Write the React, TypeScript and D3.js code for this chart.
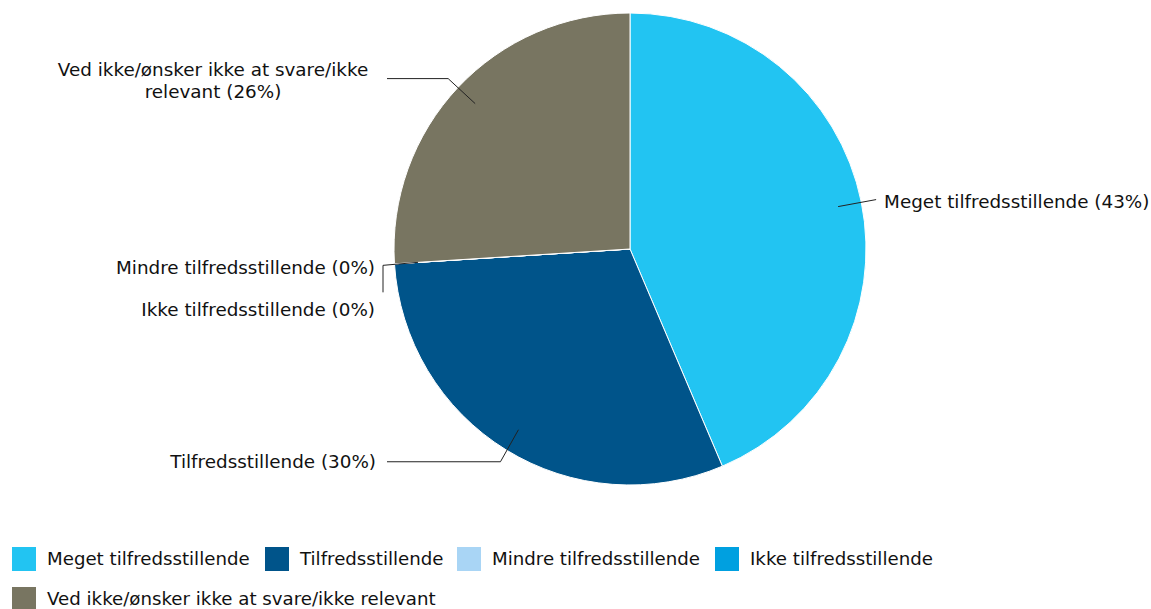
import React from "react";
import * as d3 from "d3";

const categories = [
  "Meget tilfredsstillende",
  "Tilfredsstillende",
  "Mindre tilfredsstillende",
  "Ikke tilfredsstillende",
  "Ved ikke/ønsker ikke at svare/ikke relevant",
];
const values = [43.6, 30.4, 0, 0, 26.0];
const percentLabels = ["43%", "30%", "0%", "0%", "26%"];
const colors = ["#22c4f2", "#00548a", "#a9d5f5", "#00a0e0", "#787561"];

const W = 1151;
const H = 609;
const CX = 630;
const CY = 249;
const R = 236;
const FONT = "'DejaVu Sans', Verdana, sans-serif";

type Slice = d3.PieArcDatum<number>;

export default function App() {
  const pie = d3
    .pie<number>()
    .sort(null)
    .value((d) => d);
  const arcs: Slice[] = pie(values);
  const arc = d3.arc<Slice>().innerRadius(0).outerRadius(R);
  const labelArc = d3.arc<Slice>().innerRadius(R * 0.9).outerRadius(R * 0.9);

  const pts = arcs.map((a) => {
    const [x, y] = labelArc.centroid(a);
    return [CX + x, CY + y];
  });

  // leader-line layouts (annotation only)
  const leader = (i: number): [number, number][] => {
    const [sx, sy] = pts[i];
    if (i === 0) return [[sx, sy], [sx + 38, sy - 7]];
    if (i === 1) return [[sx, sy], [sx - 18, sy + 32], [387, sy + 32]];
    if (i === 2) return [[sx, sy], [383, sy + 3]];
    if (i === 3) return [[383, sy + 3], [383, sy + 30]];
    return [[sx, sy], [sx - 27, sy - 25], [387, sy - 25]];
  };
  const line = d3.line();

  const labelText = (i: number) => {
    const name = categories[i];
    const lab = `${name} (${percentLabels[i]})`;
    const [sx, sy] = pts[i];
    if (i === 0)
      return (
        <text key={i} x={sx + 46} y={sy - 5} dominantBaseline="central" textAnchor="start">
          {lab}
        </text>
      );
    if (i === 1)
      return (
        <text key={i} x={376} y={sy + 32} dominantBaseline="central" textAnchor="end">
          {lab}
        </text>
      );
    if (i === 2)
      return (
        <text key={i} x={375} y={sy + 5} dominantBaseline="central" textAnchor="end">
          {lab}
        </text>
      );
    if (i === 3)
      return (
        <text key={i} x={375} y={sy + 47} dominantBaseline="central" textAnchor="end">
          {lab}
        </text>
      );
    return (
      <text key={i} textAnchor="middle" dominantBaseline="central">
        <tspan x={213} y={sy - 35}>
          Ved ikke/ønsker ikke at svare/ikke
        </tspan>
        <tspan x={213} y={sy - 13}>
          relevant ({percentLabels[i]})
        </tspan>
      </text>
    );
  };

  const legendRow1 = [0, 1, 2, 3];
  const legendX = [12, 265, 457, 715];

  return (
    <svg
      width={W}
      height={H}
      style={{ position: "absolute", left: 0, top: 0, background: "#fff" }}
      fontFamily={FONT}
      fontSize={18}
    >
      <g transform={`translate(${CX},${CY})`}>
        {arcs.map((a, i) => (
          <path key={i} d={arc(a) || ""} fill={colors[i]} stroke="#fff" strokeWidth={1} />
        ))}
      </g>
      {arcs.map((_, i) => (
        <path key={i} d={line(leader(i)) || ""} fill="none" stroke="#222" strokeWidth={1} />
      ))}
      <g fill="#111" fontSize={18.35}>{arcs.map((_, i) => labelText(i))}</g>
      <g fill="#111" fontSize={18.2}>
        {legendRow1.map((i, k) => (
          <g key={i} transform={`translate(${legendX[k]},547)`}>
            <rect width={24} height={24} fill={colors[i]} />
            <text x={35} y={11} dominantBaseline="central">
              {categories[i]}
            </text>
          </g>
        ))}
        <g transform={`translate(12,587)`}>
          <rect width={24} height={24} fill={colors[4]} />
          <text x={35} y={11} dominantBaseline="central">
            {categories[4]}
          </text>
        </g>
      </g>
    </svg>
  );
}
